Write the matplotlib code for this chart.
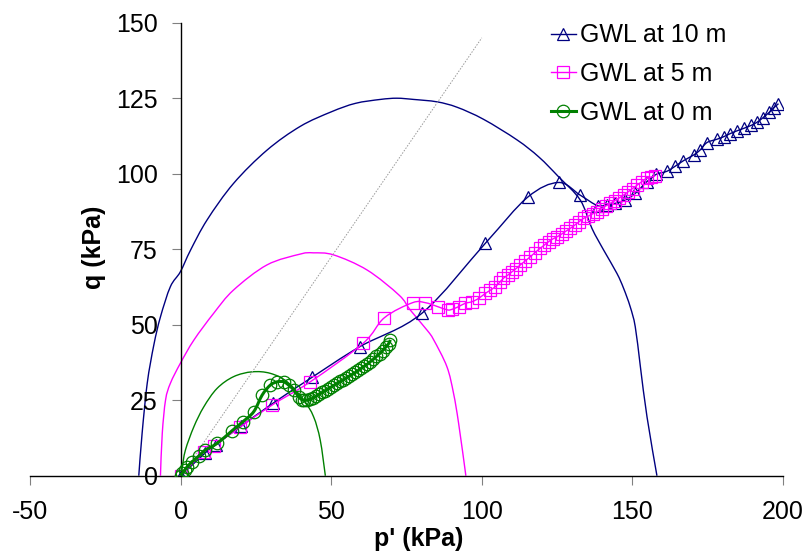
#!/usr/bin/env python3

import matplotlib
matplotlib.use("Agg")
import matplotlib.pyplot as plt
from matplotlib.path import Path
from matplotlib.patches import PathPatch
from matplotlib.lines import Line2D

plt.rcParams["font.family"] = ["Liberation Sans", "DejaVu Sans"]
plt.rcParams["axes.unicode_minus"] = False

# data

x_ticks = [-50, 0, 50, 100, 150, 200]
y_ticks = [0, 25, 50, 75, 100, 125, 150]

# critical state line
csl_p = [0, 100]
csl_q = [0, 145]

# yield surfaces
ys10_p = [-14.0, -12.9, -11.2, -9.0, -6.8, -3.5, -0.2, 3.2, 8.7, 17.5, 28.6, 39.7, 50.0, 58.0,
          66.3, 71.8, 77.3, 85.1, 91.8, 100.6, 111.7, 119.0, 125.5, 132.7, 136.6, 140.5, 144.9,
          147.1, 149.3, 151.0, 152.7, 154.9, 158.2]
ys10_q = [0, 14.0, 30.6, 43.3, 52.6, 62.6, 67.5, 74.7, 84.7, 96.8, 107.8, 115.7, 120.5, 123.3,
          124.6, 125.0, 124.6, 123.8, 122.0, 118.0, 111.2, 105.5, 99.0, 91.3, 81.9, 74.7, 67.0,
          62.1, 56.0, 49.3, 36.1, 19.5, 0]

ys5_p = [-6.8, -6.2, -5.1, -3.5, -0.2, 4.3, 10.9, 17.5, 28.6, 39.7, 44.0, 50.8, 61.9, 72.5,
         76.2, 81.8, 84.0, 88.4, 90.6, 92.3, 94.7]
ys5_q = [0, 14.0, 25.1, 30.6, 37.2, 44.9, 53.8, 61.5, 69.8, 73.4, 73.8, 73.1, 68.1, 59.8,
         54.9, 48.2, 45.0, 36.1, 27.3, 17.3, 0]

ys0_p = [0, 0.4, 1.5, 4.3, 7.6, 12.0, 17.5, 23.7, 29.7, 35.3, 40.8, 44.1, 46.3, 48.0]
ys0_q = [0, 2.5, 8.5, 16.2, 22.8, 28.9, 32.8, 34.4, 33.9, 31.1, 25.1, 19.5, 11.8, 0]

# stress paths
gwl10_p = [0, 7.9, 11.5, 20.1, 30.6, 43.6, 59.4, 80.1, 101.2, 115.2, 125.5, 132.7, 138.5,
           141.6, 144.4, 147.7, 151.0, 154.9, 158.0, 161.5, 164.3, 167.0, 170.4, 172.5, 174.8,
           178.1, 180.5, 182.6, 184.8, 187.0, 189.5, 191.4, 193.4, 195.5, 197.0, 198.6]
gwl10_q = [0, 7.4, 10.2, 16.5, 24.0, 32.6, 42.7, 53.8, 77.0, 92.2, 97.1, 92.9, 89.4,
           89.8, 90.2, 91.3, 93.5, 97.4, 99.8, 100.8, 102.5, 104.3, 106.2, 107.8, 110.3,
           111.4, 112.3, 113.3, 114.2, 115.0, 116.0, 117.0, 118.5, 120.3, 121.8, 123.2]

gwl5_p = [0, 7.6, 10.9, 19.8, 30.3, 43.0, 60.5, 67.6, 77.0, 81.2, 85.3, 88.6, 90.1, 92.3,
          94.5, 96.7, 98.9, 101.2, 102.8, 104.5, 105.9, 107.2, 108.6, 110.0, 111.4, 112.8,
          114.4, 116.1, 117.7, 119.4, 120.8, 122.2, 123.6, 125.0, 126.5, 128.0, 129.4, 130.9,
          132.3, 133.8, 135.3, 136.8, 138.3, 139.8, 141.2, 142.7, 144.2, 145.7, 147.1, 148.6,
          150.1, 151.6, 153.2, 154.9, 156.3, 157.6]
gwl5_q = [0, 7.9, 9.9, 16.2, 23.4, 31.1, 43.8, 52.3, 57.3, 57.3, 56.0, 54.9, 55.1, 56.0,
          57.1, 57.6, 58.7, 60.4, 61.4, 62.6, 64.0, 65.4, 66.4, 67.5, 68.6, 69.8,
          71.1, 72.5, 73.9, 75.3, 76.4, 77.5, 78.4, 79.1, 80.0, 81.0, 81.9, 83.0,
          84.1, 85.2, 85.9, 86.7, 87.4, 88.3, 89.3, 90.2, 91.1, 92.0, 92.9, 94.0,
          95.1, 96.2, 97.4, 98.6, 98.9, 99.3]

gwl0_p = [0, 0.4, 1.2, 2.1, 3.7, 5.9, 8.1, 12.0, 17.0, 20.5, 24.2, 27.0, 29.7, 32.0, 34.2,
          35.8, 37.5, 39.1, 40.3, 41.0, 42.0, 43.0, 44.0, 45.0, 46.0, 47.0, 48.0, 49.0, 50.0,
          51.0, 52.0, 53.0, 54.0, 55.0, 56.0, 57.0, 58.0, 59.0, 60.0, 61.0, 62.0, 63.0, 64.0,
          65.0, 66.0, 67.0, 68.0, 69.0, 69.6]
gwl0_q = [0, 0.8, 1.8, 3.0, 4.6, 6.5, 8.5, 10.7, 14.9, 17.8, 21.2, 26.7, 30.0, 31.1, 31.1,
          30.0, 28.4, 26.2, 25.1, 25.0, 25.0, 25.3, 25.8, 26.4, 27.0, 27.6, 28.2, 28.8, 29.4,
          30.0, 30.6, 31.2, 31.8, 32.4, 33.0, 33.6, 34.2, 34.9, 35.6, 36.3, 37.0, 37.8, 38.6,
          39.5, 40.4, 41.4, 42.5, 43.7, 45.0]


def smooth_path(px, py):
    # excel-like smoothed line: bezier segments through the points (catmull-rom)
    pts = list(zip(px, py))
    n = len(pts)
    verts = [pts[0]]
    codes = [Path.MOVETO]
    for i in range(n - 1):
        p0 = pts[i - 1] if i > 0 else pts[i]
        p1 = pts[i]
        p2 = pts[i + 1]
        p3 = pts[i + 2] if i + 2 < n else pts[i + 1]
        c1 = (p1[0] + (p2[0] - p0[0]) / 6, p1[1] + (p2[1] - p0[1]) / 6)
        c2 = (p2[0] - (p3[0] - p1[0]) / 6, p2[1] - (p3[1] - p1[1]) / 6)
        verts += [c1, c2, p2]
        codes += [Path.CURVE4] * 3
    return Path(verts, codes)


def smooth_line(ax, px, py, color, lw, z):
    ax.add_patch(PathPatch(smooth_path(px, py), fill=False, edgecolor=color, lw=lw, zorder=z))


def main():
    fig = plt.figure(figsize=(8.06, 5.54), dpi=100)
    ax = fig.add_axes([0.0378, 0.1413, 0.9333, 0.8177])

    navy = "#000080"
    magenta = "#FF00FF"
    green = "#008000"

    # yield surfaces and CSL
    smooth_line(ax, ys10_p, ys10_q, navy, 1.0, 1)
    smooth_line(ax, ys5_p, ys5_q, magenta, 1.0, 1)
    smooth_line(ax, ys0_p, ys0_q, green, 1.0, 1)
    ax.plot(csl_p, csl_q, color="#999999", lw=0.7, ls=(0, (1.5, 1.5)), zorder=1)

    # stress paths
    mk = dict(ms=9, mew=0.9, mfc="none", ls="none")
    series = [
        (gwl10_p, gwl10_q, navy, 1.0, "^", "GWL at 10 m"),
        (gwl5_p, gwl5_q, magenta, 1.0, "s", "GWL at 5 m"),
        (gwl0_p, gwl0_q, green, 2.2, "o", "GWL at 0 m"),
    ]
    handles = []
    for i, (px, py, c, lw, m, lab) in enumerate(series):
        smooth_line(ax, px, py, c, lw, 2 + i)
        ax.plot(px, py, color=c, marker=m, zorder=2 + i, **mk)
        handles.append(Line2D([], [], color=c, lw=lw, marker=m, ms=9, mew=0.9, mfc="none", label=lab))

    ax.set_xlim(-50, 200)
    ax.set_ylim(0, 150)
    ax.set_xticks(x_ticks)
    ax.set_yticks(y_ticks)

    for s in ["top", "right"]:
        ax.spines[s].set_visible(False)
    ax.spines["left"].set_position(("data", 0))
    ax.spines["left"].set_linewidth(1.0)
    ax.spines["bottom"].set_linewidth(1.0)

    ax.tick_params(axis="both", direction="out", length=6.5, width=0.8, color="#808080",
                   labelsize=18)
    ax.tick_params(axis="x", pad=11)
    ax.tick_params(axis="y", pad=10)

    ax.set_xlabel("p' (kPa)", fontsize=18, fontweight="bold")
    ax.set_ylabel("q (kPa)", fontsize=18, fontweight="bold")
    ax.xaxis.set_label_coords(0.5165, -0.1126)
    ax.yaxis.set_label_coords(0.101, 0.505)

    ax.legend(handles=handles, loc="upper left", bbox_to_anchor=(0.6836, 0.958),
              bbox_transform=fig.transFigure, frameon=False, fontsize=18, handlelength=1.0,
              handletextpad=0.15, labelspacing=0.59, borderpad=0, borderaxespad=0)

    plt.savefig("out.png", dpi=100)


if __name__ == "__main__":
    main()
